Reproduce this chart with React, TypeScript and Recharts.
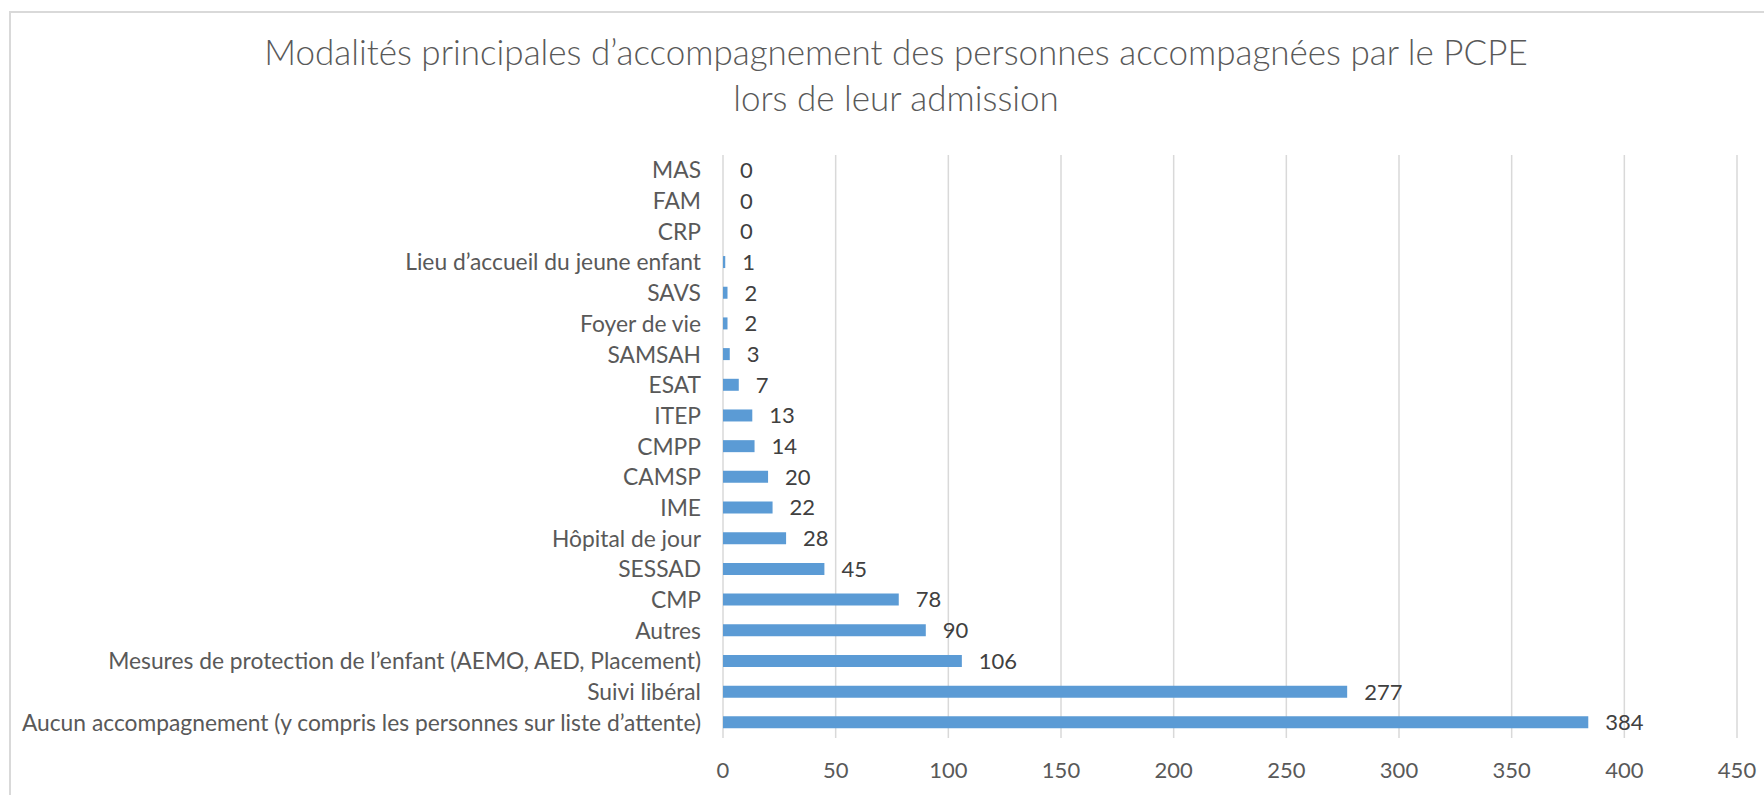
import React from 'react';
import { BarChart, Bar, XAxis, YAxis, CartesianGrid, LabelList } from 'recharts';

const categories = [
  'MAS',
  'FAM',
  'CRP',
  'Lieu d\u2019accueil du jeune enfant',
  'SAVS',
  'Foyer de vie',
  'SAMSAH',
  'ESAT',
  'ITEP',
  'CMPP',
  'CAMSP',
  'IME',
  'Hôpital de jour',
  'SESSAD',
  'CMP',
  'Autres',
  'Mesures de protection de l\u2019enfant (AEMO, AED, Placement)',
  'Suivi libéral',
  'Aucun accompagnement (y compris les personnes sur liste d\u2019attente)',
];

const values = [0, 0, 0, 1, 2, 2, 3, 7, 13, 14, 20, 22, 28, 45, 78, 90, 106, 277, 384];

const xTicks = [0, 50, 100, 150, 200, 250, 300, 350, 400, 450];

const titleLines = [
  'Modalités principales d\u2019accompagnement des personnes accompagnées par le PCPE',
  'lors de leur admission',
];

const data = categories.map((name, i) => ({ name, value: values[i] }));

const FONT = 'Lato, "Open Sans", sans-serif';
const TEXT = '#595959';

const ValueLabel = (props: any) => {
  const { x, y, width, height, value } = props;
  const xx = Number(x) + Number(width || 0) + 17;
  const yy = Number(y) + Number(height || 0) / 2;
  return (
    <text x={xx} y={yy} dy="0.36em" fill="#404040" fontSize={22} fontFamily={FONT} textAnchor="start">
      {value}
    </text>
  );
};

export default function App() {
  return (
    <div style={{ position: 'absolute', left: 0, top: 0, width: 1764, height: 795, overflow: 'hidden', background: '#fff' }}>
      <div style={{ position: 'absolute', left: 9, top: 11, width: 1900, height: 900, border: '2px solid #D9D9D9', boxSizing: 'border-box' }} />
      <div style={{ position: 'absolute', left: 0, top: 28, width: 1792, textAlign: 'center', fontFamily: FONT, fontWeight: 300, fontSize: 35, lineHeight: '46px', color: TEXT }}>
        <div>{titleLines[0]}</div>
        <div>{titleLines[1]}</div>
      </div>
      <div style={{ position: 'absolute', left: 0, top: 0 }}>
        <BarChart
          width={1764}
          height={795}
          data={data}
          layout="vertical"
          margin={{ top: 155, right: 27, bottom: 17, left: 0 }}
          barCategoryGap="60%"
        >
          <CartesianGrid horizontal={false} vertical={true} stroke="#D9D9D9" strokeWidth={1.5} />
          <XAxis
            type="number"
            domain={[0, 450]}
            ticks={xTicks}
            interval={0}
            axisLine={false}
            tickLine={false}
            tickSize={0}
            tickMargin={24}
            height={40}
            tick={{ fill: TEXT, fontSize: 22, fontFamily: FONT }}
          />
          <YAxis
            type="category"
            dataKey="name"
            width={723}
            interval={0}
            axisLine={false}
            tickLine={false}
            tickSize={0}
            tickMargin={22}
            tick={{ fill: TEXT, fontSize: 22.8, fontFamily: FONT }}
          />
          <Bar dataKey="value" fill="#5B9BD5" barSize={12} minPointSize={0.001} isAnimationActive={false}>
            <LabelList dataKey="value" content={ValueLabel} />
          </Bar>
        </BarChart>
      </div>
    </div>
  );
}
